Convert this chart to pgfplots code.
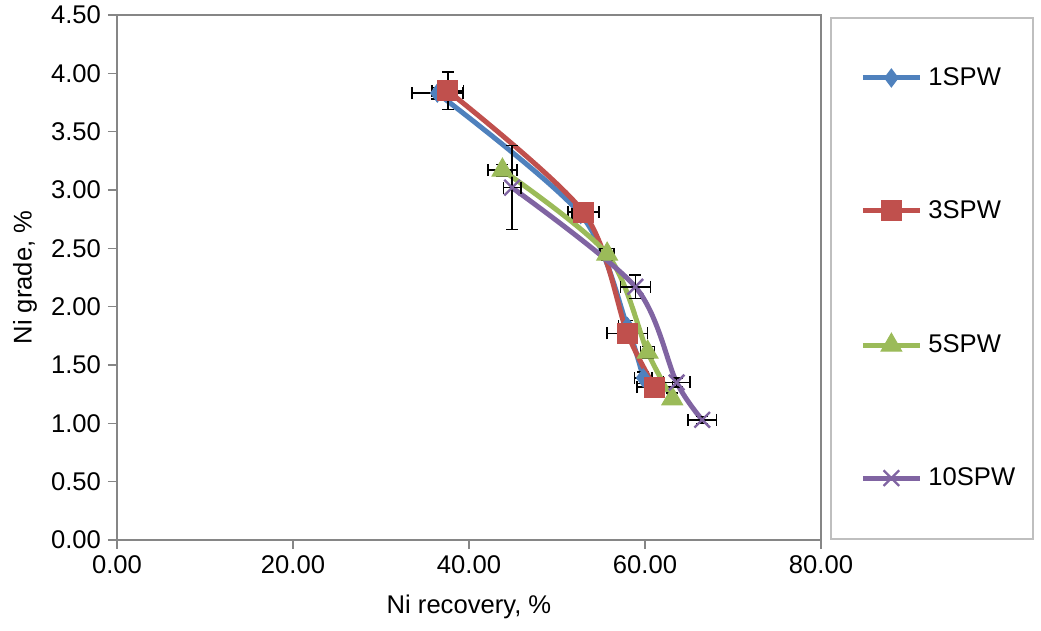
\documentclass[border=0pt]{standalone}
\usepackage{fontspec}
\setmainfont{Liberation Sans}
\usepackage{pgfplots}
\pgfplotsset{compat=1.18}

\definecolor{sblue}{HTML}{4F81BD}
\definecolor{sred}{HTML}{C0504D}
\definecolor{sgreen}{HTML}{9BBB59}
\definecolor{spurple}{HTML}{8064A2}
\definecolor{axgray}{HTML}{868686}
\definecolor{leggray}{HTML}{BFBFBF}

% recovery (x), grade (y), error bars
\pgfplotstableread{
x    y    ex   ey
36.4 3.83 2.9  0.05
52.7 2.79 1.0  0.05
58.0 1.83 1.0  0.05
59.8 1.39 1.0  0.05
}\spwone
\pgfplotstableread{
x    y    ex   ey
37.6 3.85 1.8  0.16
53.0 2.81 1.76 0.05
58.0 1.77 2.3  0.05
61.1 1.31 2.0  0.05
}\spwthree
\pgfplotstableread{
x    y    ex   ey
43.8 3.17 1.65 0.05
55.7 2.45 0.8  0.05
60.3 1.61 0.8  0.05
63.1 1.21 0.5  0.05
}\spwfive
\pgfplotstableread{
x    y    ex   ey
44.9 3.02 1.0  0.36
58.9 2.17 1.7  0.10
63.6 1.35 1.5  0.04
66.5 1.03 1.6  0.03
}\spwten

\begin{document}
\begin{tikzpicture}[font=\fontsize{12.8}{15}\selectfont]
\useasboundingbox (-58.5pt,-45.5pt) rectangle (462pt,270pt);
\begin{axis}[
    scale only axis,
    width=352pt, height=262.5pt,
    xmin=0, xmax=80, ymin=0, ymax=4.5,
    xtick={0,20,40,60,80},
    ytick={0,0.5,1,1.5,2,2.5,3,3.5,4,4.5},
    xticklabel style={/pgf/number format/.cd,fixed,fixed zerofill,precision=2},
    yticklabel style={/pgf/number format/.cd,fixed,fixed zerofill,precision=2},
    /pgf/number format/assume math mode=true,
    axis line style={axgray, line width=0.8pt},
    tick style={axgray, line width=0.8pt},
    tick align=outside, major tick length=4.5pt,
    xtick pos=left, ytick pos=left,
    xlabel={Ni recovery,\ \%},
    ylabel={Ni grade, \%},
    xlabel style={at={(axis description cs:0.5,-0.1276)}, anchor=center},
    ylabel style={at={(axis description cs:-0.1307,0.5)}, anchor=center},
    legend cell align=left,
    legend style={at={(axis description cs:1.0554,0.499)}, anchor=west,
        draw=none, fill=none, inner sep=0pt, row sep=56pt, column sep=3pt,
        nodes={inner sep=0pt}},
    legend image code/.code={
        \draw[mark repeat=2,mark phase=2,#1] plot coordinates {(0pt,0pt) (14.25pt,0pt) (28.5pt,0pt)};},
    error bars/error bar style={black, line width=0.75pt},
    error bars/error mark options={black, line width=0.75pt, mark size=3pt, rotate=90},
    every axis plot/.append style={line width=2.5pt, smooth, tension=0.5},
]
\addplot[sblue, mark=diamond*, mark size=4.5pt, mark options={solid, line width=0.5pt},
    error bars/.cd, x dir=both, x explicit, y dir=both, y explicit]
    table[x=x, y=y, x error=ex, y error=ey] {\spwone};
\addlegendentry{1SPW}
\addplot[sred, mark=square*, mark size=5pt, mark options={solid, line width=0.5pt},
    error bars/.cd, x dir=both, x explicit, y dir=both, y explicit]
    table[x=x, y=y, x error=ex, y error=ey] {\spwthree};
\addlegendentry{3SPW}
\addplot[sgreen, mark=triangle*, mark size=6pt, mark options={solid, line width=0.5pt},
    error bars/.cd, x dir=both, x explicit, y dir=both, y explicit]
    table[x=x, y=y, x error=ex, y error=ey] {\spwfive};
\addlegendentry{5SPW}
\addplot[spurple, mark=x, mark size=5.5pt, mark options={solid, line width=1.2pt},
    error bars/.cd, x dir=both, x explicit, y dir=both, y explicit]
    table[x=x, y=y, x error=ex, y error=ey] {\spwten};
\addlegendentry{10SPW}
\end{axis}
\draw[leggray, line width=0.8pt] (357pt,0.5pt) rectangle (458pt,261pt);
\end{tikzpicture}
\end{document}
